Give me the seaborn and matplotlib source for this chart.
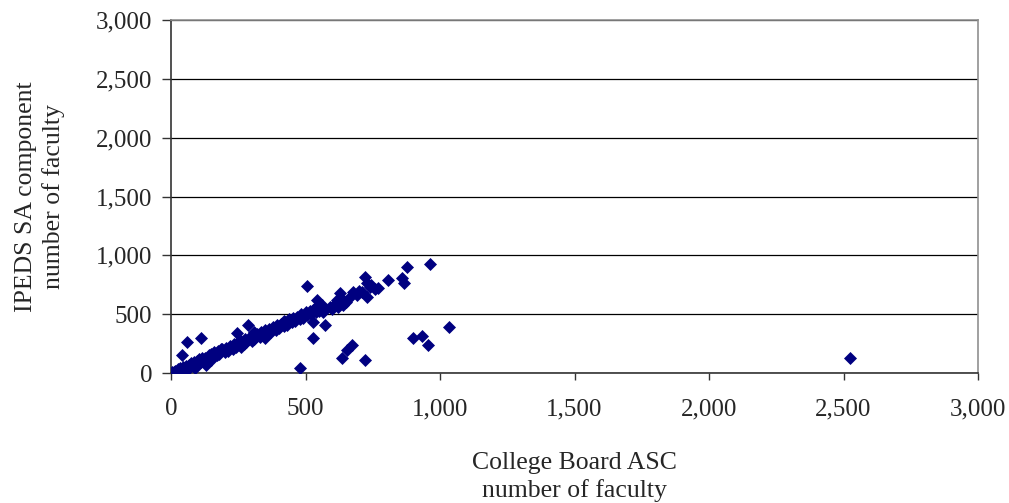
import numpy as np
import pandas as pd
import matplotlib
matplotlib.use('Agg')
import matplotlib.pyplot as plt
import seaborn as sns
from matplotlib.ticker import FuncFormatter

############
# Data     #
############
# College Board ASC count (x) vs IPEDS SA count (y)
asc_faculty = [
    5, 10, 15, 20, 25, 30, 35, 40, 45, 50, 55, 60, 65, 70, 75, 80, 85, 90, 95, 100,
    105, 110, 115, 120, 125, 130, 140, 145, 150, 155, 160, 170, 175, 180, 190, 200,
    205, 210, 220, 230, 235, 240, 250, 255, 260, 270, 275, 280, 290, 300, 305, 310,
    320, 330, 335, 340, 350, 360, 365, 370, 380, 390, 395, 400, 410, 420, 425, 430,
    440, 450, 455, 460, 470, 480, 485, 490, 500, 505, 515, 520, 530, 540, 545, 550,
    560, 570, 590, 600, 610, 620, 640, 650, 660, 690, 700, 710, 740, 760,
    30, 60, 90, 130, 20, 45, 150, 185, 260, 310, 350, 420,
    40, 58, 110, 244, 287, 480, 504, 527, 529, 572, 542, 554, 529, 566, 616, 641,
    628, 678, 727, 721, 727, 745, 770, 808, 857, 866, 876, 963, 1033, 901, 932, 957,
    672, 653, 634, 721, 2524,
]
ipeds_faculty = [
    10, 5, 20, 12, 30, 18, 40, 25, 50, 35, 60, 45, 70, 55, 85, 60, 95, 70, 100, 80,
    115, 90, 125, 100, 130, 110, 150, 120, 165, 135, 175, 150, 185, 160, 200, 180,
    215, 190, 230, 205, 245, 220, 265, 235, 270, 250, 290, 260, 300, 275, 320, 290,
    330, 305, 345, 320, 365, 335, 375, 350, 390, 365, 405, 380, 420, 400, 435, 410,
    455, 430, 470, 445, 480, 460, 500, 470, 515, 490, 530, 500, 545, 520, 560, 530,
    575, 550, 560, 540, 590, 560, 620, 600, 640, 660, 700, 690, 730, 710,
    5, 25, 40, 70, 0, 15, 110, 200, 225, 345, 300, 445,
    153, 266, 295, 337, 408, 40, 739, 295, 436, 408, 620, 563, 535, 521, 620, 578,
    677, 691, 648, 818, 762, 748, 720, 790, 804, 767, 898, 926, 391, 295, 314, 238,
    238, 195, 125, 110, 127,
]

TICKS = [0, 500, 1000, 1500, 2000, 2500, 3000]

df = pd.DataFrame({'asc': asc_faculty, 'ipeds': ipeds_faculty})

############
# Plot     #
############
sns.set_style('white')
plt.rcParams['font.family'] = ['Liberation Serif', 'DejaVu Serif']

fig, ax = plt.subplots(figsize=(10.09, 5.03), dpi=100)
fig.subplots_adjust(left=0.1695, right=0.9693, bottom=0.2584, top=0.9602)

sns.scatterplot(data=df, x='asc', y='ipeds', marker='D', s=44,
                color='#000080', linewidth=0, ax=ax, zorder=3)

ax.set_xlim(0, 3000)
ax.set_ylim(0, 3000)
ax.set_xticks(TICKS)
ax.set_yticks(TICKS)
fmt = FuncFormatter(lambda v, p: f"{int(v):,}")
ax.xaxis.set_major_formatter(fmt)
ax.yaxis.set_major_formatter(fmt)

# Horizontal gridlines only
ax.yaxis.grid(True, color='black', linewidth=0.9)
ax.xaxis.grid(False)
ax.set_axisbelow(True)

for side in ['left', 'bottom']:
    ax.spines[side].set_color('#333333')
    ax.spines[side].set_linewidth(1.2)
for side in ['top', 'right']:
    ax.spines[side].set_color('#909090')
    ax.spines[side].set_linewidth(1.2)

ax.tick_params(axis='y', direction='out', length=6.5, width=1, pad=7,
               labelsize=18, left=True, color='#333333')
ax.tick_params(axis='x', direction='out', length=5, width=1, pad=13,
               labelsize=18, bottom=True, color='#333333')

ax.set_xlabel('College Board ASC\nnumber of faculty', fontsize=18.5,
              linespacing=1.3, va='center')
ax.xaxis.set_label_coords(0.5, -0.295)
ax.set_ylabel('IPEDS SA component\nnumber of faculty', fontsize=18.5,
              linespacing=1.3, va='center')
ax.yaxis.set_label_coords(-0.162, 0.5)

fig.savefig('out.png', dpi=100)
